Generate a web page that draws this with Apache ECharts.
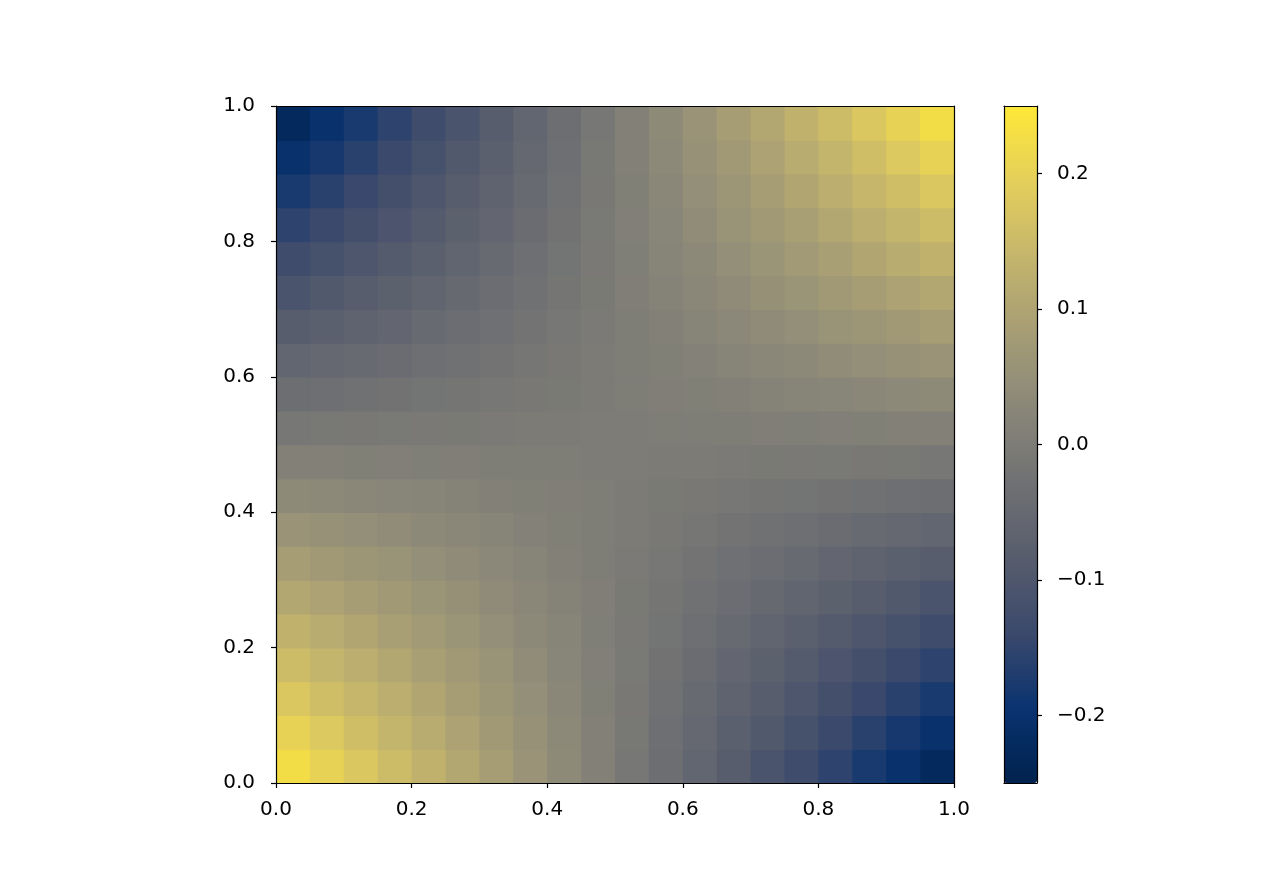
<!DOCTYPE html>
<html>
<head>
<meta charset="utf-8">
<title>heatmap</title>
<script src="https://cdn.jsdelivr.net/npm/echarts@6/dist/echarts.min.js"></script>
<style>
  html, body { margin: 0; padding: 0; background: #ffffff; }
  #main { width: 1280px; height: 880px; }
</style>
</head>
<body>
<div id="main"></div>
<script>
// cell centres (20 x 20 grid over the unit square)
var xCenters = [0.025,0.075,0.125,0.175,0.225,0.275,0.325,0.375,0.425,0.475,0.525,0.575,0.625,0.675,0.725,0.775,0.825,0.875,0.925,0.975];
var yCenters = [0.025,0.075,0.125,0.175,0.225,0.275,0.325,0.375,0.425,0.475,0.525,0.575,0.625,0.675,0.725,0.775,0.825,0.875,0.925,0.975];

// values, rows from bottom (y=0.025) to top (y=0.975)
var values = [
  [0.226,0.202,0.178,0.154,0.131,0.107,0.083,0.059,0.036,0.012,-0.012,-0.036,-0.059,-0.083,-0.107,-0.131,-0.154,-0.178,-0.202,-0.226],
  [0.202,0.181,0.159,0.138,0.117,0.095,0.074,0.053,0.032,0.011,-0.011,-0.032,-0.053,-0.074,-0.095,-0.117,-0.138,-0.159,-0.181,-0.202],
  [0.178,0.159,0.141,0.122,0.103,0.084,0.066,0.047,0.028,0.009,-0.009,-0.028,-0.047,-0.066,-0.084,-0.103,-0.122,-0.141,-0.159,-0.178],
  [0.154,0.138,0.122,0.106,0.089,0.073,0.057,0.041,0.024,0.008,-0.008,-0.024,-0.041,-0.057,-0.073,-0.089,-0.106,-0.122,-0.138,-0.154],
  [0.131,0.117,0.103,0.089,0.076,0.062,0.048,0.034,0.021,0.007,-0.007,-0.021,-0.034,-0.048,-0.062,-0.076,-0.089,-0.103,-0.117,-0.131],
  [0.107,0.095,0.084,0.073,0.062,0.051,0.039,0.028,0.017,0.006,-0.006,-0.017,-0.028,-0.039,-0.051,-0.062,-0.073,-0.084,-0.095,-0.107],
  [0.083,0.074,0.066,0.057,0.048,0.039,0.031,0.022,0.013,0.004,-0.004,-0.013,-0.022,-0.031,-0.039,-0.048,-0.057,-0.066,-0.074,-0.083],
  [0.059,0.053,0.047,0.041,0.034,0.028,0.022,0.016,0.009,0.003,-0.003,-0.009,-0.016,-0.022,-0.028,-0.034,-0.041,-0.047,-0.053,-0.059],
  [0.036,0.032,0.028,0.024,0.021,0.017,0.013,0.009,0.006,0.002,-0.002,-0.006,-0.009,-0.013,-0.017,-0.021,-0.024,-0.028,-0.032,-0.036],
  [0.012,0.011,0.009,0.008,0.007,0.006,0.004,0.003,0.002,0.001,-0.001,-0.002,-0.003,-0.004,-0.006,-0.007,-0.008,-0.009,-0.011,-0.012],
  [-0.012,-0.011,-0.009,-0.008,-0.007,-0.006,-0.004,-0.003,-0.002,-0.001,0.001,0.002,0.003,0.004,0.006,0.007,0.008,0.009,0.011,0.012],
  [-0.036,-0.032,-0.028,-0.024,-0.021,-0.017,-0.013,-0.009,-0.006,-0.002,0.002,0.006,0.009,0.013,0.017,0.021,0.024,0.028,0.032,0.036],
  [-0.059,-0.053,-0.047,-0.041,-0.034,-0.028,-0.022,-0.016,-0.009,-0.003,0.003,0.009,0.016,0.022,0.028,0.034,0.041,0.047,0.053,0.059],
  [-0.083,-0.074,-0.066,-0.057,-0.048,-0.039,-0.031,-0.022,-0.013,-0.004,0.004,0.013,0.022,0.031,0.039,0.048,0.057,0.066,0.074,0.083],
  [-0.107,-0.095,-0.084,-0.073,-0.062,-0.051,-0.039,-0.028,-0.017,-0.006,0.006,0.017,0.028,0.039,0.051,0.062,0.073,0.084,0.095,0.107],
  [-0.131,-0.117,-0.103,-0.089,-0.076,-0.062,-0.048,-0.034,-0.021,-0.007,0.007,0.021,0.034,0.048,0.062,0.076,0.089,0.103,0.117,0.131],
  [-0.154,-0.138,-0.122,-0.106,-0.089,-0.073,-0.057,-0.041,-0.024,-0.008,0.008,0.024,0.041,0.057,0.073,0.089,0.106,0.122,0.138,0.154],
  [-0.178,-0.159,-0.141,-0.122,-0.103,-0.084,-0.066,-0.047,-0.028,-0.009,0.009,0.028,0.047,0.066,0.084,0.103,0.122,0.141,0.159,0.178],
  [-0.202,-0.181,-0.159,-0.138,-0.117,-0.095,-0.074,-0.053,-0.032,-0.011,0.011,0.032,0.053,0.074,0.095,0.117,0.138,0.159,0.181,0.202],
  [-0.226,-0.202,-0.178,-0.154,-0.131,-0.107,-0.083,-0.059,-0.036,-0.012,0.012,0.036,0.059,0.083,0.107,0.131,0.154,0.178,0.202,0.226]
];

var colorbarTicks = [-0.2, -0.1, 0, 0.1, 0.2];
var colorMin = -0.25;
var colorMax = 0.25;

// cividis
var cividis = ['#00224e','#0a3370','#3b496c','#575d6d','#707173','#8a8779','#a69d75','#c4b56c','#e4cf5b','#fee838'];

var heatData = [];
values.forEach(function (row, j) {
  row.forEach(function (v, i) {
    heatData.push([xCenters[i], yCenters[j], v]);
  });
});

var halfX = (xCenters[1] - xCenters[0]) / 2;
var halfY = (yCenters[1] - yCenters[0]) / 2;

var font = 'DejaVu Sans';
var lineStyle = { color: '#000', width: 1.2 };

function fmt(v) {
  return v.toFixed(1).replace('-', '\u2212');
}

function lineOnly(type, gridIndex, position, min, max) {
  return {
    type: type, gridIndex: gridIndex, position: position, min: min, max: max, z: 5,
    axisLine: { show: true, onZero: false, lineStyle: lineStyle },
    axisTick: { show: false }, axisLabel: { show: false }, splitLine: { show: false }
  };
}

// one rectangle per cell, slightly widened so no seams show between cells
function renderCell(params, api) {
  var x = api.value(0), y = api.value(1);
  var p0 = api.coord([x - halfX, y + halfY]);
  var p1 = api.coord([x + halfX, y - halfY]);
  return {
    type: 'rect',
    shape: { x: p0[0], y: p0[1], width: p1[0] - p0[0] + 0.8, height: p1[1] - p0[1] + 0.8 },
    style: { fill: api.visual('color') }
  };
}

var chart = echarts.init(document.getElementById('main'));

chart.setOption({
  backgroundColor: '#ffffff',
  animation: false,
  grid: [
    { left: 276, top: 106, width: 678, height: 677 },
    { left: 1004, top: 106, width: 33, height: 677 }
  ],
  xAxis: [
    {
      type: 'value', gridIndex: 0, position: 'bottom', min: 0, max: 1, interval: 0.2, z: 5,
      axisLine: { show: true, onZero: false, lineStyle: lineStyle },
      axisTick: { show: true, length: 5, lineStyle: lineStyle },
      axisLabel: { margin: 17, fontSize: 20, color: '#000', fontFamily: font, formatter: fmt },
      splitLine: { show: false }
    },
    lineOnly('value', 0, 'top', 0, 1),
    lineOnly('value', 1, 'bottom', 0, 1),
    lineOnly('value', 1, 'top', 0, 1)
  ],
  yAxis: [
    {
      type: 'value', gridIndex: 0, position: 'left', min: 0, max: 1, interval: 0.2, z: 5,
      axisLine: { show: true, onZero: false, lineStyle: lineStyle },
      axisTick: { show: true, length: 5, lineStyle: lineStyle },
      axisLabel: { margin: 21, fontSize: 20, color: '#000', fontFamily: font, formatter: fmt },
      splitLine: { show: false }
    },
    lineOnly('value', 0, 'right', 0, 1),
    {
      type: 'value', gridIndex: 1, position: 'right', min: colorMin, max: colorMax, z: 5,
      axisLine: { show: true, onZero: false, lineStyle: lineStyle },
      axisTick: { show: true, length: 5, lineStyle: lineStyle, customValues: colorbarTicks },
      axisLabel: { margin: 20, fontSize: 20, color: '#000', fontFamily: font, formatter: fmt, customValues: colorbarTicks },
      splitLine: { show: false }
    },
    lineOnly('value', 1, 'left', colorMin, colorMax)
  ],
  visualMap: {
    type: 'continuous',
    min: colorMin,
    max: colorMax,
    dimension: 2,
    seriesIndex: 0,
    orient: 'vertical',
    left: 1004,
    top: 106,
    padding: 0,
    itemWidth: 33,
    itemHeight: 677,
    calculable: false,
    hoverLink: false,
    z: 1,
    inRange: { color: cividis }
  },
  series: [
    {
      type: 'custom',
      xAxisIndex: 0,
      yAxisIndex: 0,
      data: heatData,
      renderItem: renderCell,
      clip: true,
      encode: { x: 0, y: 1 },
      emphasis: { disabled: true }
    }
  ]
});
</script>
</body>
</html>
